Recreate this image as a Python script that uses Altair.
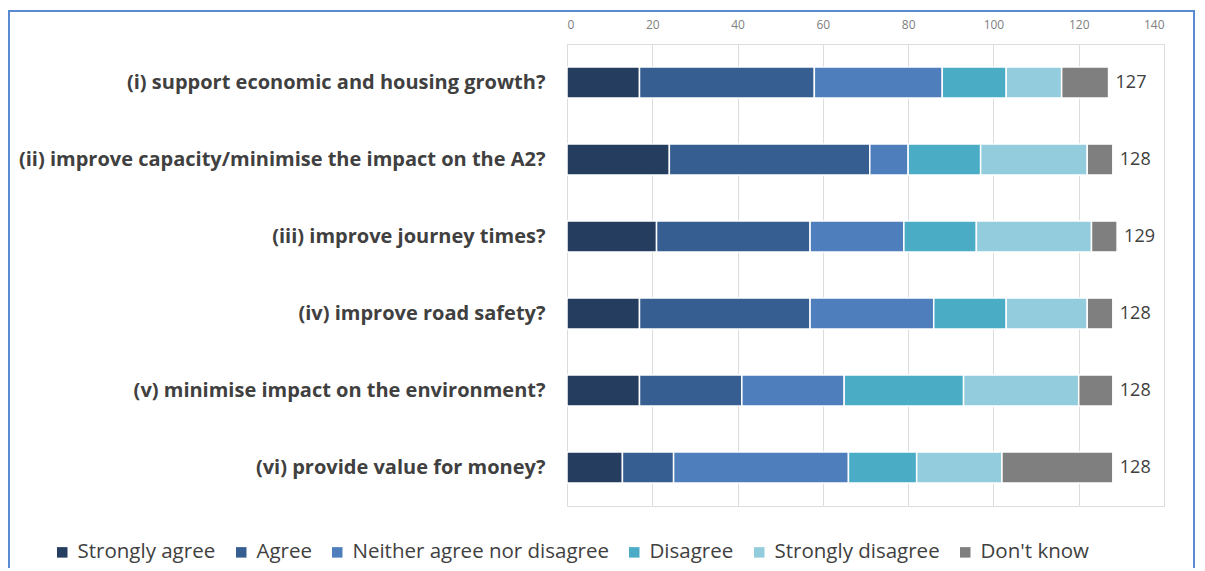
import altair as alt
import pandas as pd

questions = [
    "(i)  support economic and housing growth?",
    "(ii) improve capacity/minimise the impact on the A2?",
    "(iii) improve journey times?",
    "(iv) improve road safety?",
    "(v) minimise impact on the environment?",
    "(vi) provide value for money?",
]
responses = ["Strongly agree", "Agree", "Neither agree nor disagree",
             "Disagree", "Strongly disagree", "Don't know"]
strongly_agree = [17, 24, 21, 17, 17, 13]
agree = [41, 47, 36, 40, 24, 12]
neither = [30, 9, 22, 29, 24, 41]
disagree = [15, 17, 17, 17, 28, 16]
strongly_disagree = [13, 25, 27, 19, 27, 20]
dont_know = [11, 6, 6, 6, 8, 26]
x_ticks = [0, 20, 40, 60, 80, 100, 120, 140]
colors = ["#253d5f", "#365e90", "#4e7fbc", "#4bacc6", "#93cddd", "#7f7f7f"]

series = [strongly_agree, agree, neither, disagree, strongly_disagree, dont_know]
rows = []
for ri, (resp, vals) in enumerate(zip(responses, series)):
    for q, v in zip(questions, vals):
        rows.append({"question": q, "response": resp, "value": v, "order": ri})
df = pd.DataFrame(rows)

FONT = "Open Sans"
TXT = "#404040"

y_enc = alt.Y("question:N", sort=questions,
              scale=alt.Scale(paddingInner=0.6, paddingOuter=0.3),
              axis=alt.Axis(title=None, labelFont=FONT, labelFontWeight="bold",
                            labelFontSize=20, labelColor=TXT, labelPadding=22,
                            ticks=False, domain=False, labelLimit=700, grid=False))

bars = alt.Chart(df).mark_bar(stroke="white", strokeWidth=1.5).encode(
    y=y_enc,
    x=alt.X("value:Q", stack="zero", scale=alt.Scale(domain=[0, 140], nice=False),
            axis=alt.Axis(orient="top", values=x_ticks, title=None,
                          labelColor="#808080", labelFontSize=12, labelFont=FONT,
                          labelPadding=13, ticks=False, domain=False,
                          gridColor="#dcdcdc", gridWidth=1)),
    color=alt.Color("response:N", sort=responses,
                    scale=alt.Scale(domain=responses, range=colors),
                    legend=alt.Legend(title=None, orient="none", legendX=-515, legendY=498,
                                      direction="horizontal", columns=6,
                                      symbolType="square", symbolSize=110,
                                      symbolStrokeWidth=0, labelFont=FONT,
                                      labelFontSize=20.5, labelColor=TXT, labelLimit=400,
                                      columnPadding=15, labelOffset=5, padding=0)),
    order=alt.Order("order:Q"),
)

totals = alt.Chart(df).transform_aggregate(
    total="sum(value)", groupby=["question"]
).mark_text(align="left", dx=7, fontSize=18, font=FONT, color=TXT).encode(
    y=alt.Y("question:N", sort=questions),
    x=alt.X("total:Q"),
    text=alt.Text("total:Q"),
)

frame = alt.Chart(pd.DataFrame({"a": [0]})).mark_rect(
    filled=False, stroke="#5a8ad0", strokeWidth=2
).encode(x=alt.value(-558), x2=alt.value(627), y=alt.value(-33), y2=alt.value(600))

chart = alt.layer(frame, bars, totals).properties(
    width=597, height=462,
    autosize=alt.AutoSizeParams(type="none"),
    padding={"left": 559, "top": 36, "right": 33, "bottom": 62},
).configure_view(stroke=None).configure(background="white")

chart.save("out.html", embed_options={"renderer": "svg", "actions": False})
